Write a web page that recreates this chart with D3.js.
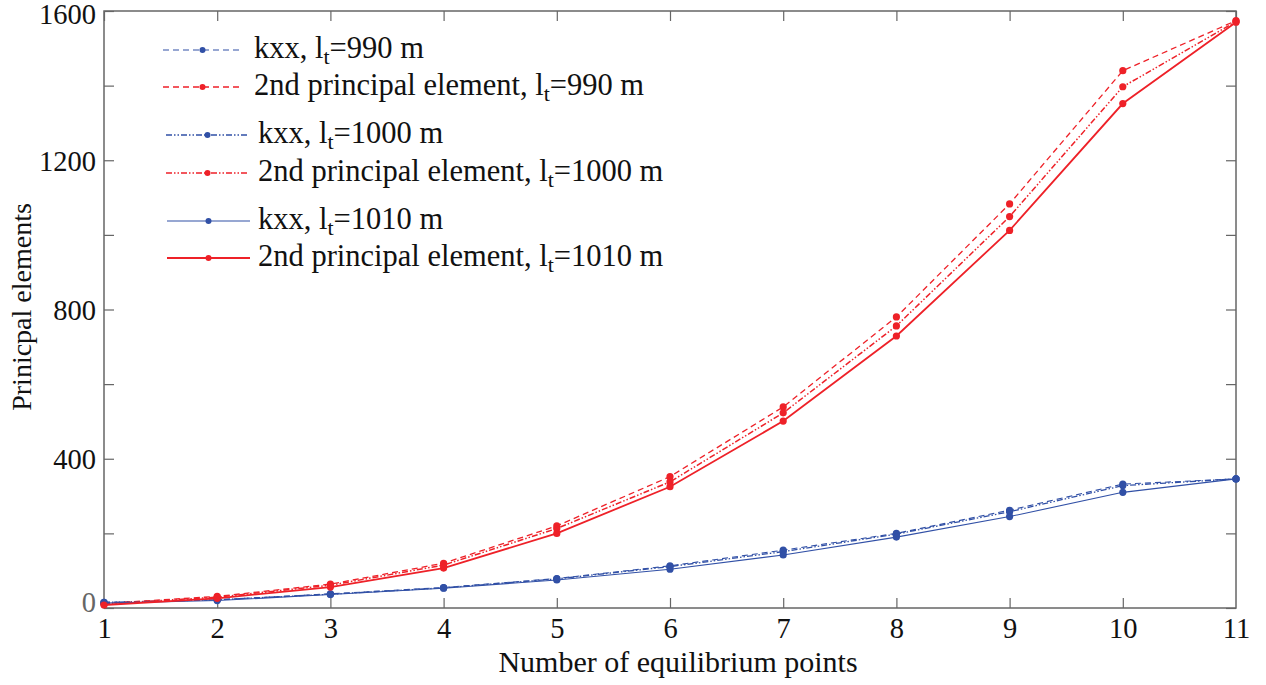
<!DOCTYPE html>
<html><head><meta charset="utf-8">
<script src="https://cdn.jsdelivr.net/npm/d3@7"></script>
<style>body{margin:0;background:#fff}svg{display:block}</style>
</head><body><svg id="c" width="1266" height="685"></svg>
<script>
const xs = [1,2,3,4,5,6,7,8,9,10,11];
const kxx990  = [15,22,38,55,79,113,155,200,262,332,346];
const p2_990  = [12,31,64,120,220,352,539,780,1083,1440,1574];
const kxx1000 = [15,22,37,54,78,111,151,198,258,328,346];
const p2_1000 = [11,29,61,115,213,338,523,756,1049,1397,1572];
const kxx1010 = [13,20,36,53,75,104,142,190,245,310,346];
const p2_1010 = [8,26,56,107,200,325,501,729,1012,1352,1570];
const yTicks = [0,200,400,600,800,1000,1200,1400,1600];
const yLabels = [0,400,800,1200,1600];
const seriesNames = ["kxx, l|t|=990 m","2nd principal element, l|t|=990 m","kxx, l|t|=1000 m","2nd principal element, l|t|=1000 m","kxx, l|t|=1010 m","2nd principal element, l|t|=1010 m"];

const FONT = "Liberation Serif, DejaVu Serif, serif";
const BLUE = "#3150a6", RED = "#ee2128";
const dashed = "6,4", dashdot = "6,2,1.5,2,1.5,2";
const series = [
  {v:kxx990, c:BLUE, d:dashed, w:1.1},
  {v:p2_990, c:RED, d:dashed, w:1.3},
  {v:kxx1000, c:BLUE, d:dashdot, w:1.3},
  {v:p2_1000, c:RED, d:dashdot, w:1.5},
  {v:kxx1010, c:BLUE, d:null, w:1.1},
  {v:p2_1010, c:RED, d:null, w:1.8}
];
series.forEach((s,i)=>s.name=seriesNames[i]);

const L=104,R=1236,T=11,B=608;
const svg = d3.select("#c").attr("font-family",FONT);
const x = d3.scaleLinear().domain([1,11]).range([L,R]);
const y = d3.scaleLinear().domain([0,1600]).range([B,T]);
const axisColor="#666";

svg.append("rect").attr("x",L).attr("y",T).attr("width",R-L).attr("height",B-T)
  .attr("fill","none").attr("stroke",axisColor).attr("stroke-width",1.5);

const gx = svg.append("g").attr("transform",`translate(0,${B})`)
  .call(d3.axisBottom(x).tickValues(xs).tickSize(-10).tickPadding(14).tickFormat(d3.format("d")));
const gxt = svg.append("g").attr("transform",`translate(0,${T})`)
  .call(d3.axisTop(x).tickValues(xs).tickSize(-10).tickFormat(""));
const gy = svg.append("g").attr("transform",`translate(${L},0)`)
  .call(d3.axisLeft(y).tickValues(yTicks).tickSize(-10).tickPadding(8)
    .tickFormat(d=>yLabels.includes(d)?d:""));
const gyr = svg.append("g").attr("transform",`translate(${R},0)`)
  .call(d3.axisRight(y).tickValues(yTicks).tickSize(-10).tickFormat(""));
[gx,gxt,gy,gyr].forEach(g=>{
  g.attr("font-family",FONT).attr("font-size",28.5);
  g.select(".domain").remove();
  g.selectAll(".tick line").attr("stroke",axisColor).attr("stroke-width",1.2);
  g.selectAll("text").attr("fill","#111");
});
gx.selectAll("text").attr("dy","0.55em");
gy.selectAll("text").attr("dy","0.35em");
gy.selectAll(".tick").filter(d=>d===1600).select("text").attr("dy","0.43em");
gy.selectAll(".tick").filter(d=>d===0).select("text").attr("fill","#666").attr("dy","0.12em");
gx.selectAll(".tick").filter((d,i)=>i===0||i===xs.length-1).select("line").remove();

svg.append("text").attr("x",678).attr("y",672).attr("text-anchor","middle")
  .attr("font-size",30).attr("fill","#111").text("Number of equilibrium points");
svg.append("text").attr("transform","translate(31,307) rotate(-90)").attr("text-anchor","middle")
  .attr("font-size",28).attr("fill","#111").text("Prinicpal elements");

const line = d3.line().x((d,i)=>x(xs[i])).y(d=>y(d));
series.forEach(s=>{
  svg.append("path").datum(s.v).attr("d",line).attr("fill","none")
    .attr("stroke",s.c).attr("stroke-width",s.w).attr("stroke-dasharray",s.d);
  svg.append("g").selectAll("circle").data(s.v).join("circle")
    .attr("cx",(d,i)=>x(xs[i])).attr("cy",d=>y(d)).attr("r",3.6).attr("fill",s.c);
});

const legY=[50,87,135,173,221,258];
const legX=[[163,242,254],[163,242,254],[166,249,258],[166,249,258],[167,250,258],[167,250,258]];
series.forEach((s,i)=>{
  const [a,b,tx]=legX[i], yy=legY[i];
  svg.append("line").attr("x1",a).attr("x2",b).attr("y1",yy).attr("y2",yy)
    .attr("stroke",s.c).attr("stroke-width",s.w).attr("stroke-dasharray",s.d);
  svg.append("circle").attr("cx",(a+b)/2).attr("cy",yy).attr("r",3).attr("fill",s.c);
  const parts=s.name.split("|");
  const t=svg.append("text").attr("x",tx).attr("y",yy+8).attr("font-size",30.5).attr("fill","#111");
  t.append("tspan").text(parts[0]);
  t.append("tspan").attr("dy",6).attr("font-size",22).text(parts[1]);
  t.append("tspan").attr("dy",-6).text(parts[2]);
});
</script></body></html>
